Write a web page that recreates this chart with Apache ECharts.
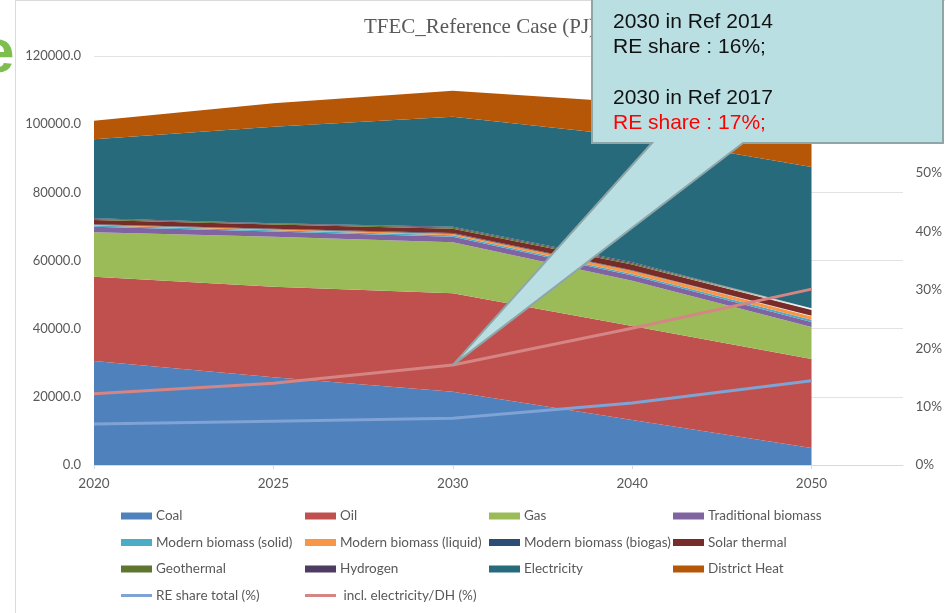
<!DOCTYPE html>
<html>
<head>
<meta charset="utf-8">
<script src="https://cdn.jsdelivr.net/npm/echarts@6/dist/echarts.min.js"></script>
<style>
html,body{margin:0;padding:0;background:#fff;}
#c{width:945px;height:613px;}
</style>
</head>
<body>
<div id="c"></div>
<script>
const years = ['2020', '2025', '2030', '2040', '2050'];
const coal = [30500, 25730, 21500, 13200, 4990];
const oil = [24750, 26590, 28880, 27580, 26110];
const gas = [13020, 14670, 14960, 13290, 9390];
const tradBiomass = [1650, 1500, 1600, 1500, 1500];
const modSolid = [350, 400, 450, 500, 600];
const modLiquid = [250, 300, 450, 900, 1000];
const modBiogas = [150, 150, 200, 200, 200];
const solarThermal = [1200, 1200, 1300, 1650, 1700];
const geothermal = [300, 250, 350, 400, 300];
const hydrogen = [210, 120, 230, 250, 180];
const electricity = [23180, 28350, 32270, 36970, 41460];
const districtHeat = [5460, 6860, 7630, 9890, 10000];
const reShareTotal = [7.0, 7.5, 8.0, 10.6, 14.4];
const reShareInclElec = [12.2, 14.0, 17.1, 23.4, 30.1];

const areaNames = ['Coal', 'Oil', 'Gas', 'Traditional biomass', 'Modern biomass (solid)', 'Modern biomass (liquid)', 'Modern biomass (biogas)', 'Solar thermal', 'Geothermal', 'Hydrogen', 'Electricity', 'District Heat'];
const areaData = [coal, oil, gas, tradBiomass, modSolid, modLiquid, modBiogas, solarThermal, geothermal, hydrogen, electricity, districtHeat];
const areaColors = ['#4F81BD', '#C0504D', '#9BBB59', '#8064A2', '#4BACC6', '#F79646', '#2C4D75', '#772C2A', '#5F7530', '#4D3B62', '#276A7C', '#B65708'];
const lineNames = ['RE share total (%)', ' incl. electricity/DH (%)'];
const lineData = [reShareTotal, reShareInclElec];
const lineColors = ['#7EA3D4', '#D58583'];

const FONT = 'Lato';
const TXT = '#595959';
const FS = 13.5;

const series = [];
areaNames.forEach((n, i) => {
  series.push({
    name: n, type: 'line', stack: 'total', symbol: 'none',
    xAxisIndex: 0, yAxisIndex: 0,
    data: areaData[i],
    lineStyle: { width: 0 },
    areaStyle: { color: areaColors[i], opacity: 1 },
    itemStyle: { color: areaColors[i] },
    z: 2
  });
});
lineNames.forEach((n, i) => {
  series.push({
    name: n, type: 'line', xAxisIndex: 0, yAxisIndex: 1, symbol: 'none',
    data: lineData[i],
    lineStyle: { width: 3, color: lineColors[i] },
    itemStyle: { color: lineColors[i] },
    z: 3
  });
});

const lineIcon = 'path://M0,0 L31,0 L31,3 L0,3 Z';
function legendCol(items, left) {
  return {
    orient: 'vertical', left: left, top: 503, itemWidth: 31, itemHeight: 7, itemGap: 10.5,
    textStyle: { color: TXT, fontFamily: FONT, fontSize: FS, lineHeight: 16, padding: [0, 0, 0, -1] },
    data: items.map(n => lineNames.indexOf(n) >= 0 ? { name: n, icon: lineIcon } : { name: n, icon: 'rect' })
  };
}

const option = {
  animation: false,
  backgroundColor: '#fff',
  title: {
    text: 'TFEC_Reference Case (PJ)', left: 359, top: 12,
    textStyle: { fontFamily: 'Liberation Serif', fontSize: 21, fontWeight: 'normal', color: TXT }
  },
  grid: [
    { left: 94, right: 132, top: 56, bottom: 148 },
    { left: 94, right: 42, top: 56, bottom: 148 }
  ],
  legend: [
    legendCol(['Coal', 'Modern biomass (solid)', 'Geothermal', 'RE share total (%)'], 116),
    legendCol(['Oil', 'Modern biomass (liquid)', 'Hydrogen', ' incl. electricity/DH (%)'], 300),
    legendCol(['Gas', 'Modern biomass (biogas)', 'Electricity'], 484),
    legendCol(['Traditional biomass', 'Solar thermal', 'District Heat'], 668)
  ],
  xAxis: [
    {
      gridIndex: 0, type: 'category', data: years, boundaryGap: false,
      axisLine: { show: false },
      axisTick: { show: true, length: 4, lineStyle: { color: '#D9D9D9' } },
      splitLine: { show: false },
      axisLabel: { color: TXT, fontFamily: FONT, fontSize: FS, margin: 12 }
    },
    {
      gridIndex: 1, type: 'value', min: 0, max: 1,
      axisLine: { show: true, lineStyle: { color: '#D9D9D9', width: 1 } },
      axisTick: { show: false }, axisLabel: { show: false }, splitLine: { show: false }
    }
  ],
  yAxis: [
    {
      gridIndex: 0, type: 'value', min: 0, max: 120000, interval: 20000,
      axisLine: { show: false }, axisTick: { show: false }, axisLabel: { show: false }, splitLine: { show: false }
    },
    {
      gridIndex: 0, type: 'value', min: 0, max: 70, interval: 10, position: 'right', offset: 90,
      axisLine: { show: false }, axisTick: { show: false }, splitLine: { show: false },
      axisLabel: { color: TXT, fontFamily: FONT, fontSize: FS, margin: 14, formatter: v => v + '%' }
    },
    {
      gridIndex: 1, type: 'value', min: 0, max: 120000, interval: 20000,
      axisLine: { show: false }, axisTick: { show: false },
      splitLine: { lineStyle: { color: '#E3E3E3', width: 1 } },
      axisLabel: { color: TXT, fontFamily: FONT, fontSize: 13, margin: 13, formatter: v => v.toFixed(1) }
    }
  ],
  series: series
};

const chart = echarts.init(document.getElementById('c'), null, { renderer: 'canvas' });
chart.setOption(option);

const tip = chart.convertToPixel({ xAxisIndex: 0, yAxisIndex: 1 }, [2, reShareInclElec[2]]);
const boxL = 592, boxR = 943, boxB = 143;
const CF = '21px "Liberation Sans"';
chart.setOption({
  graphic: [
    { type: 'text', left: -20, top: 24, z: 1, style: { text: 'e', font: 'bold 62px "Liberation Sans"', fill: '#7DBE4F' } },
    { type: 'rect', shape: { x: 15, y: -1, width: 7, height: 620 }, z: 2, style: { fill: '#fff' } },
    { type: 'line', shape: { x1: 15.5, y1: 0, x2: 15.5, y2: 613 }, z: 3, style: { stroke: '#DADADA', lineWidth: 1 } },
    { type: 'line', shape: { x1: 15, y1: 0.5, x2: 945, y2: 0.5 }, z: 3, style: { stroke: '#DADADA', lineWidth: 1 } },
    {
      type: 'polygon', z: 100,
      shape: { points: [[boxL, -2], [boxR, -2], [boxR, boxB], [743, boxB], [tip[0], tip[1]], [652, boxB], [boxL, boxB]] },
      style: { fill: '#BADFE3', stroke: '#8FA6A9', lineWidth: 2 }
    },
    { type: 'text', x: 613, y: 22, z: 101, style: { text: '2030 in Ref 2014', font: CF, fill: '#111', verticalAlign: 'middle' } },
    { type: 'text', x: 613, y: 47, z: 101, style: { text: 'RE share : 16%;', font: CF, fill: '#111', verticalAlign: 'middle' } },
    { type: 'text', x: 613, y: 98, z: 101, style: { text: '2030 in Ref 2017', font: CF, fill: '#111', verticalAlign: 'middle' } },
    { type: 'text', x: 613, y: 123, z: 101, style: { text: 'RE share : 17%;', font: CF, fill: '#FF0000', verticalAlign: 'middle' } }
  ]
});
</script>
</body>
</html>
